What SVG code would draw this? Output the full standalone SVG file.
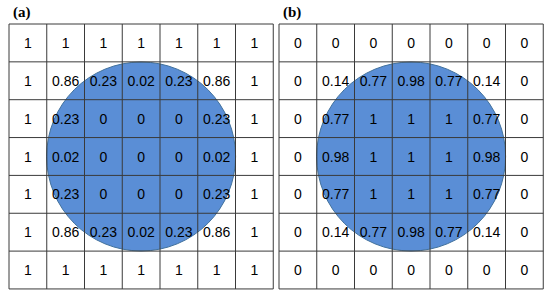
<svg xmlns="http://www.w3.org/2000/svg" width="550" height="299" viewBox="0 0 550 299">
<style>
.bg{fill:#ffffff}
.circ{fill:#5a8ed6;stroke:#41719c;stroke-width:1}
.grid{fill:none;stroke:#3a3a3a;stroke-width:1}
.v{font-family:"Liberation Sans",Arial,sans-serif;font-size:14px;fill:#000;text-anchor:middle}
.lab{font-family:"Liberation Serif","Times New Roman",serif;font-size:15px;font-weight:bold;fill:#000}
</style>
<rect class="bg" x="0" y="0" width="550" height="299"/>
<g id="panel-a">
<text class="lab" x="13" y="17">(a)</text>
<circle class="circ" cx="141.1" cy="156.5" r="94.5"/>
<path class="grid" d="M9,24H273.25M9,61.85H273.25M9,99.7H273.25M9,137.55H273.25M9,175.4H273.25M9,213.25H273.25M9,251.1H273.25M9,288.95H273.25M9,24V288.95M46.75,24V288.95M84.5,24V288.95M122.25,24V288.95M160,24V288.95M197.75,24V288.95M235.5,24V288.95M273.25,24V288.95"/>
<g class="v">
<text x="27.9" y="47.9">1</text><text x="65.6" y="47.9">1</text><text x="103.4" y="47.9">1</text><text x="141.1" y="47.9">1</text><text x="178.9" y="47.9">1</text><text x="216.6" y="47.9">1</text><text x="254.4" y="47.9">1</text>
<text x="27.9" y="85.8">1</text><text x="65.6" y="85.8">0.86</text><text x="103.4" y="85.8">0.23</text><text x="141.1" y="85.8">0.02</text><text x="178.9" y="85.8">0.23</text><text x="216.6" y="85.8">0.86</text><text x="254.4" y="85.8">1</text>
<text x="27.9" y="123.6">1</text><text x="65.6" y="123.6">0.23</text><text x="103.4" y="123.6">0</text><text x="141.1" y="123.6">0</text><text x="178.9" y="123.6">0</text><text x="216.6" y="123.6">0.23</text><text x="254.4" y="123.6">1</text>
<text x="27.9" y="161.5">1</text><text x="65.6" y="161.5">0.02</text><text x="103.4" y="161.5">0</text><text x="141.1" y="161.5">0</text><text x="178.9" y="161.5">0</text><text x="216.6" y="161.5">0.02</text><text x="254.4" y="161.5">1</text>
<text x="27.9" y="199.4">1</text><text x="65.6" y="199.4">0.23</text><text x="103.4" y="199.4">0</text><text x="141.1" y="199.4">0</text><text x="178.9" y="199.4">0</text><text x="216.6" y="199.4">0.23</text><text x="254.4" y="199.4">1</text>
<text x="27.9" y="237.2">1</text><text x="65.6" y="237.2">0.86</text><text x="103.4" y="237.2">0.23</text><text x="141.1" y="237.2">0.02</text><text x="178.9" y="237.2">0.23</text><text x="216.6" y="237.2">0.86</text><text x="254.4" y="237.2">1</text>
<text x="27.9" y="275.1">1</text><text x="65.6" y="275.1">1</text><text x="103.4" y="275.1">1</text><text x="141.1" y="275.1">1</text><text x="178.9" y="275.1">1</text><text x="216.6" y="275.1">1</text><text x="254.4" y="275.1">1</text>
</g>
</g>
<g id="panel-b">
<text class="lab" x="283" y="17">(b)</text>
<circle class="circ" cx="411.1" cy="156.5" r="94.5"/>
<path class="grid" d="M279,24H543.25M279,61.85H543.25M279,99.7H543.25M279,137.55H543.25M279,175.4H543.25M279,213.25H543.25M279,251.1H543.25M279,288.95H543.25M279,24V288.95M316.75,24V288.95M354.5,24V288.95M392.25,24V288.95M430,24V288.95M467.75,24V288.95M505.5,24V288.95M543.25,24V288.95"/>
<g class="v">
<text x="297.9" y="47.9">0</text><text x="335.6" y="47.9">0</text><text x="373.4" y="47.9">0</text><text x="411.1" y="47.9">0</text><text x="448.9" y="47.9">0</text><text x="486.6" y="47.9">0</text><text x="524.4" y="47.9">0</text>
<text x="297.9" y="85.8">0</text><text x="335.6" y="85.8">0.14</text><text x="373.4" y="85.8">0.77</text><text x="411.1" y="85.8">0.98</text><text x="448.9" y="85.8">0.77</text><text x="486.6" y="85.8">0.14</text><text x="524.4" y="85.8">0</text>
<text x="297.9" y="123.6">0</text><text x="335.6" y="123.6">0.77</text><text x="373.4" y="123.6">1</text><text x="411.1" y="123.6">1</text><text x="448.9" y="123.6">1</text><text x="486.6" y="123.6">0.77</text><text x="524.4" y="123.6">0</text>
<text x="297.9" y="161.5">0</text><text x="335.6" y="161.5">0.98</text><text x="373.4" y="161.5">1</text><text x="411.1" y="161.5">1</text><text x="448.9" y="161.5">1</text><text x="486.6" y="161.5">0.98</text><text x="524.4" y="161.5">0</text>
<text x="297.9" y="199.4">0</text><text x="335.6" y="199.4">0.77</text><text x="373.4" y="199.4">1</text><text x="411.1" y="199.4">1</text><text x="448.9" y="199.4">1</text><text x="486.6" y="199.4">0.77</text><text x="524.4" y="199.4">0</text>
<text x="297.9" y="237.2">0</text><text x="335.6" y="237.2">0.14</text><text x="373.4" y="237.2">0.77</text><text x="411.1" y="237.2">0.98</text><text x="448.9" y="237.2">0.77</text><text x="486.6" y="237.2">0.14</text><text x="524.4" y="237.2">0</text>
<text x="297.9" y="275.1">0</text><text x="335.6" y="275.1">0</text><text x="373.4" y="275.1">0</text><text x="411.1" y="275.1">0</text><text x="448.9" y="275.1">0</text><text x="486.6" y="275.1">0</text><text x="524.4" y="275.1">0</text>
</g>
</g>
</svg>
